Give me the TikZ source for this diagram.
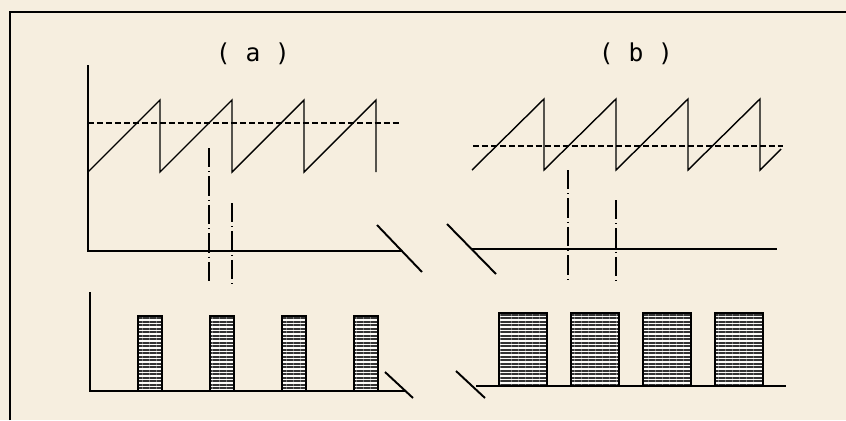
\documentclass[tikz,border=0pt]{standalone}
\usepackage{fontspec}
\newfontfamily\labelfont{DejaVu Sans Mono}
\usetikzlibrary{patterns.meta}
\definecolor{paper}{RGB}{246,238,223}

\begin{document}
\begin{tikzpicture}[x=0.02cm, y=-0.02cm,
    axis/.style={line width=1.1pt},
    saw/.style={line width=0.8pt, line join=miter},
    thresh/.style={line width=0.8pt, dash pattern=on 3.4pt off 1.7pt},
    marker/.style={line width=0.8pt, dash pattern=on 11pt off 2.3pt on 0.6pt off 2.3pt},
    bar/.style={draw, line width=1pt, preaction={fill=white!80!paper},
        pattern={Lines[distance=2pt, line width=1.1pt]}, pattern color=black!80},
    every node/.style={font=\labelfont\fontsize{14}{16}\selectfont}]
    % Paper and frame
    \fill[paper] (0,0) rectangle (846,420);
    \useasboundingbox (0,0) rectangle (846,420);
    \draw[line width=1.2pt] (10,420) -- (10,12) -- (846,12);

    % Titles
    \node (ta) at (253,54) {( a )};
    \node (tb) at (636,54) {( b )};

    % (a) sawtooth and threshold
    \draw[axis] (88,65) -- (88,251) -- (402,251);
    \draw[axis] (377,225) -- (422,272);
    \draw[saw] (88,172) \foreach \k in {0,...,3} { -- ++(72,-72) -- ++(0,72) };
    \draw[thresh] (88,123) -- (400,123);
    \draw[marker] (209,148) -- (209,285);
    \draw[marker] (232,203) -- (232,285);

    % (a) pulses
    \draw[axis] (90,292) -- (90,391) -- (405,391);
    \draw[axis] (385,372) -- (413,398);
    \foreach \k in {0,...,3}
        \draw[bar] ({138+72*\k},316) rectangle ({162+72*\k},391);

    % (b) sawtooth and threshold
    \draw[saw] (472,170) \foreach \k in {0,...,3} { -- ++(72,-71) -- ++(0,71) } -- ++(21,-21);
    \draw[thresh] (473,146) -- (783,146);
    \draw[axis] (472,249) -- (777,249);
    \draw[axis] (447,224) -- (496,274);
    \draw[marker] (568,170) -- (568,281);
    \draw[marker] (616,200) -- (616,283);

    % (b) pulses
    \draw[axis] (476,386) -- (786,386);
    \draw[axis] (456,371) -- (485,398);
    \foreach \k in {0,...,3}
        \draw[bar] ({499+72*\k},313) rectangle ({547+72*\k},386);
\end{tikzpicture}
\end{document}
